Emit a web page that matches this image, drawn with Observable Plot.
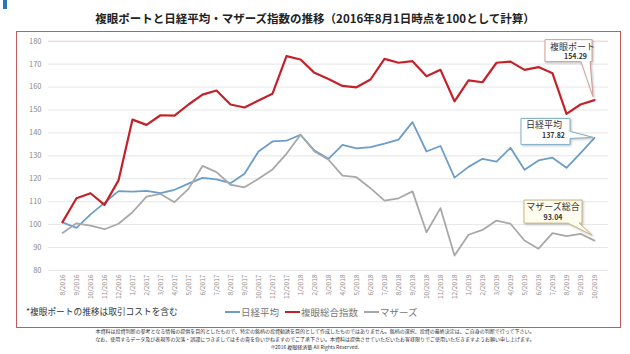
<!DOCTYPE html>
<html><head><meta charset="utf-8">
<script src="https://cdn.jsdelivr.net/npm/d3@7"></script>
<script src="https://cdn.jsdelivr.net/npm/@observablehq/plot@0.6"></script>
<style>
body{margin:0;background:#fff;font-family:"Noto Sans CJK JP","Noto Sans",sans-serif;}
#wrap{position:relative;width:630px;height:354px;overflow:hidden;}
.abs{position:absolute;white-space:nowrap;}
</style></head>
<body><div id="wrap"></div>
<script>
const months = ["8/2016","9/2016","10/2016","11/2016","12/2016","1/2017","2/2017","3/2017","4/2017","5/2017","6/2017","7/2017","8/2017","9/2017","10/2017","11/2017","12/2017","1/2018","2/2018","3/2018","4/2018","5/2018","6/2018","7/2018","8/2018","9/2018","10/2018","11/2018","12/2018","1/2019","2/2019","3/2019","4/2019","5/2019","6/2019","7/2019","8/2019","9/2019","10/2019"];
const nikkei = [101.0,98.6,104.5,109.5,114.6,114.4,114.7,113.7,115.2,117.9,120.4,119.7,118.1,122.2,131.9,136.3,136.6,139.2,132.3,128.7,134.8,133.3,133.8,135.3,137.1,144.7,131.9,134.3,120.5,125.2,128.7,127.5,133.5,123.9,128.0,129.2,124.8,131.2,137.82];
const fukugan = [101.1,111.5,113.7,108.6,119.3,145.8,143.5,147.7,147.5,152.4,156.7,158.5,152.4,151.1,154.1,157.1,173.5,172.0,166.2,163.5,160.5,159.9,163.3,172.3,170.6,171.3,164.7,167.5,153.8,162.9,162.1,170.6,171.1,167.5,168.7,166.0,148.3,152.4,154.29];
const mothers = [96.4,100.6,99.6,98.0,100.4,105.4,112.2,113.4,109.8,115.6,125.6,122.9,117.4,116.3,120.0,124.1,130.9,139.2,131.9,128.3,121.4,120.7,115.9,110.5,111.5,114.5,96.7,107.2,86.5,95.6,97.7,101.8,100.4,93.1,89.5,96.3,95.0,96.0,93.04];
const seriesNames = ["日経平均","複眼総合指数","マザーズ"];
const seriesColors = ["#6b9dc8","#c4222a","#a8a8a8"];
const yTicks = [80,90,100,110,120,130,140,150,160,170,180];
const callouts = [
  {name:"複眼ポート", value:"154.29", series:1},
  {name:"日経平均", value:"137.82", series:0},
  {name:"マザーズ総合", value:"93.04", series:2}
];

const allSeries = [nikkei, fukugan, mothers];
const rows = [];
allSeries.forEach((vals, s) => vals.forEach((v, i) => rows.push({month: months[i], value: v, series: seriesNames[s]})));

const wrap = document.getElementById("wrap");
const F = '"Noto Sans CJK JP","Noto Sans",sans-serif';

const mark = document.createElement("div");
mark.className = "abs";
mark.style.cssText = "left:3px;top:0;width:4px;height:9px;background:#2e75b6;";
wrap.appendChild(mark);

const title = document.createElement("div");
title.className = "abs";
title.style.cssText = `left:0;top:10px;width:630px;text-align:center;font-size:11.5px;font-weight:bold;color:#222;font-family:${F};`;
title.textContent = "複眼ポートと日経平均・マザーズ指数の推移（2016年8月1日時点を100として計算）";
wrap.appendChild(title);

const plot = Plot.plot({
  width: 630, height: 300,
  marginTop: 10.7, marginBottom: 60, marginLeft: 48, marginRight: 22,
  style: {fontFamily: F, fontSize: "7.5px", color: "#8a8a8a", background: "transparent", overflow: "visible"},
  x: {type: "point", domain: months, padding: 0.5, tickRotate: -90, tickSize: 0, tickPadding: 4, label: null},
  y: {domain: [80, 180], ticks: yTicks, tickSize: 0, tickPadding: 7, label: null},
  marks: [
    Plot.ruleY(yTicks, {stroke: d => d === 180 ? "#f2caca" : "#e6e6e6", strokeWidth: 1}),
    Plot.line(rows.filter(r => r.series === seriesNames[0]), {x: "month", y: "value", stroke: seriesColors[0], strokeWidth: 1.8}),
    Plot.line(rows.filter(r => r.series === seriesNames[1]), {x: "month", y: "value", stroke: seriesColors[1], strokeWidth: 2.2}),
    Plot.line(rows.filter(r => r.series === seriesNames[2]), {x: "month", y: "value", stroke: seriesColors[2], strokeWidth: 1.8})
  ]
});
plot.style.position = "absolute";
plot.style.left = "0px";
plot.style.top = "30px";
wrap.appendChild(plot);

d3.select(plot).selectAll('g[aria-label="x-axis tick label"] text, g[aria-label="x-axis"] text').style("font-size", "6.6px");

const sx = plot.scale("x"), sy = plot.scale("y");
const xLast = sx.apply(months[months.length - 1]);
const svg = d3.select(plot);
const gC = svg.append("g");
function callout(c, px, py) {
  let d, bx0, by0, bx1, by1, fill, stroke;
  if (c.series === 1) {
    bx0 = px - 49; bx1 = px - 2; by0 = py - 60; by1 = py - 38;
    d = `M${bx0},${by0}H${bx1}V${by1}H${bx1-2}L${px-1},${py-3}L${bx1-11},${by1}H${bx0}Z`;
    fill = "#fff"; stroke = "#d49a9a";
  } else if (c.series === 0) {
    bx0 = px - 73; bx1 = px - 24; by0 = py - 19; by1 = py + 7;
    d = `M${bx0},${by0}H${bx1}V${by1-13}L${px-1},${py}L${bx1},${by1-6}V${by1}H${bx0}Z`;
    fill = "#fff"; stroke = "#7fb0c8";
  } else {
    bx0 = px - 70; bx1 = px - 12; by0 = py - 40; by1 = py - 17;
    d = `M${bx0},${by0}H${bx1}V${by1}H${bx1-3}L${px-2},${py-5}L${bx1-14},${by1}H${bx0}Z`;
    fill = "#fffdf0"; stroke = "#c9b682";
  }
  gC.append("path").attr("d", d).attr("fill", fill).attr("stroke", stroke).attr("stroke-width", 1)
    .style("filter", "drop-shadow(1px 1px 1px rgba(0,0,0,0.25))");
  gC.append("text").attr("x", c.series === 2 ? (bx0 + bx1) / 2 : bx0 + 5).attr("y", by0 + 10)
    .attr("text-anchor", c.series === 2 ? "middle" : "start")
    .attr("font-size", "9px").attr("fill", "#333").attr("font-family", F).text(c.name);
  gC.append("text").attr("x", c.series === 2 ? (bx0 + bx1) / 2 : bx1 - 5).attr("y", by0 + 19.5)
    .attr("text-anchor", c.series === 2 ? "middle" : "end")
    .attr("font-size", "7px").attr("font-weight", "bold").attr("fill", "#333").attr("font-family", F).text(c.value);
}
callouts.forEach(c => {
  const vals = allSeries[c.series];
  callout(c, xLast, sy.apply(vals[vals.length - 1]));
});

const frame = document.createElement("div");
frame.className = "abs";
frame.style.cssText = "left:16px;top:31px;width:603px;height:295px;border:1.5px solid #c55a5a;pointer-events:none;";
wrap.appendChild(frame);

const note = document.createElement("div");
note.className = "abs";
note.style.cssText = `left:26px;top:305px;font-size:8.7px;color:#333;font-family:${F};`;
note.textContent = "*複眼ポートの推移は取引コストを含む";
wrap.appendChild(note);

const legend = document.createElement("div");
legend.className = "abs";
legend.style.cssText = `left:225px;top:305px;font-size:9.5px;color:#777;font-family:${F};display:flex;gap:6px;align-items:center;`;
seriesNames.forEach((n, i) => {
  const it = document.createElement("span");
  it.style.cssText = "display:flex;align-items:center;gap:1px;";
  const sw = document.createElement("span");
  sw.style.cssText = `display:inline-block;width:15px;height:2.5px;background:${seriesColors[i]};`;
  const tx = document.createElement("span");
  tx.textContent = n;
  it.appendChild(sw); it.appendChild(tx);
  legend.appendChild(it);
});
wrap.appendChild(legend);

const disc = [
  "本資料は投資判断の参考となる情報の提供を目的としたもので、特定の銘柄の投資勧誘を目的として作成したものではありません。銘柄の選択、投資の最終決定は、ご自身の判断で行って下さい。",
  "なお、使用するデータ及び表現等の欠落・誤謬につきましてはその責を負いかねますのでご了承下さい。本資料は提供させていただいたお客様限りでご使用いただきますようお願い申し上げます。",
  "©2016 複眼経済塾 All Rights Reserved."
];
disc.forEach((t, i) => {
  const d = document.createElement("div");
  d.className = "abs";
  d.style.cssText = `left:0;top:${327 + i * 8}px;width:630px;text-align:center;font-size:5px;line-height:8px;color:#333;font-family:${F};`;
  d.textContent = t;
  wrap.appendChild(d);
});
</script>
</body></html>
